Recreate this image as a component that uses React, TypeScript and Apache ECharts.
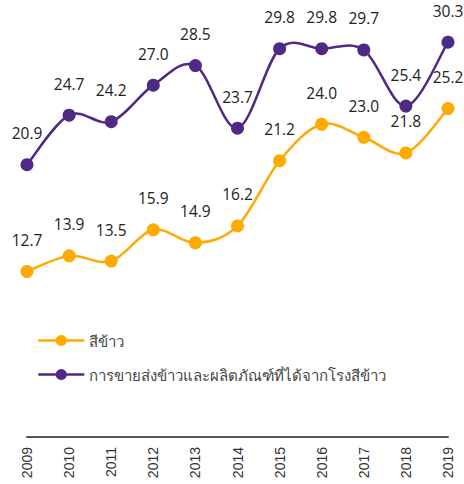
import React, { useEffect, useRef } from "react";
import * as echarts from "echarts";

const years = ["2009", "2010", "2011", "2012", "2013", "2014", "2015", "2016", "2017", "2018", "2019"];
const milledRice = [12.7, 13.9, 13.5, 15.9, 14.9, 16.2, 21.2, 24.0, 23.0, 21.8, 25.2];
const exportsAndProducts = [20.9, 24.7, 24.2, 27.0, 28.5, 23.7, 29.8, 29.8, 29.7, 25.4, 30.3];
const seriesNames = ["สีข้าว", "การขายส่งข้าวและผลิตภัณฑ์ที่ได้จากโรงสีข้าว"];

const ORANGE = "#FFAA00";
const PURPLE = "#4F2A85";
const FONT = "'Open Sans', 'Noto Sans', sans-serif";

function curveSeries(values: number[], color: string, id: string) {
  return {
    type: "custom",
    id,
    name: id,
    silent: true,
    data: values.map((v, i) => [i, v]),
    encode: { x: 0, y: 1 },
    renderItem: (params: any, api: any) => {
      if (params.dataIndex !== 0) return null;
      const pts = values.map((v, i) => api.coord([i, v]));
      const n = pts.length;
      const P = (k: number) => pts[Math.max(0, Math.min(n - 1, k))];
      let d = `M${pts[0][0]},${pts[0][1]}`;
      for (let i = 0; i < n - 1; i++) {
        const p0 = P(i - 1), p1 = P(i), p2 = P(i + 1), p3 = P(i + 2);
        const c1x = p1[0] + (p2[0] - p0[0]) / 6;
        const c1y = p1[1] + (p2[1] - p0[1]) / 6;
        const c2x = p2[0] - (p3[0] - p1[0]) / 6;
        const c2y = p2[1] - (p3[1] - p1[1]) / 6;
        d += ` C${c1x},${c1y} ${c2x},${c2y} ${p2[0]},${p2[1]}`;
      }
      return {
        type: "path",
        shape: { pathData: d },
        style: { stroke: color, lineWidth: 2.5, fill: "none" },
      };
    },
  };
}

export default function App() {
  const ref = useRef<HTMLDivElement>(null);
  useEffect(() => {
    if (!ref.current) return;
    const chart = echarts.init(ref.current, undefined, { renderer: "svg" });
    const label = {
      show: true,
      position: "top" as const,
      distance: 17,
      fontSize: 15.5,
      fontFamily: FONT,
      color: "#222",
      formatter: (p: any) => Number(p.value).toFixed(1),
    };
    chart.setOption({
      animation: false,
      grid: { left: 27, right: 16, top: 20, bottom: 47, containLabel: false },
      legend: {
        orient: "vertical",
        left: 37,
        top: 333,
        itemWidth: 46,
        itemHeight: 14,
        itemGap: 19,
        padding: 0,
        lineStyle: { opacity: 1, width: 2.5 },
        textStyle: { fontSize: 15, color: "#444", fontFamily: FONT },
        data: [
          { name: seriesNames[0], lineStyle: { color: ORANGE, opacity: 1, width: 2.5 } },
          { name: seriesNames[1], lineStyle: { color: PURPLE, opacity: 1, width: 2.5 } },
        ],
      },
      xAxis: {
        type: "category",
        data: years,
        boundaryGap: false,
        axisLine: { lineStyle: { color: "#555", width: 2 } },
        axisTick: { show: false },
        axisLabel: { rotate: 90, fontSize: 14, color: "#333", fontFamily: "'Liberation Sans', Arial, sans-serif", margin: 10 },
      },
      yAxis: {
        type: "value",
        min: 0,
        max: 32,
        show: false,
        splitLine: { show: false },
      },
      series: [
        curveSeries(milledRice, ORANGE, "curveA"),
        curveSeries(exportsAndProducts, PURPLE, "curveB"),
        {
          name: seriesNames[0],
          type: "line",
          data: milledRice,
          symbol: "circle",
          symbolSize: 13,
          itemStyle: { color: ORANGE },
          lineStyle: { color: ORANGE, width: 2.5, opacity: 0 },
          label,
        },
        {
          name: seriesNames[1],
          type: "line",
          data: exportsAndProducts,
          symbol: "circle",
          symbolSize: 13,
          itemStyle: { color: PURPLE },
          lineStyle: { color: PURPLE, width: 2.5, opacity: 0 },
          label,
        },
      ],
    });
    return () => chart.dispose();
  }, []);
  return <div ref={ref} style={{ width: 464, height: 484, position: "absolute", left: 0, top: 0 }} />;
}
